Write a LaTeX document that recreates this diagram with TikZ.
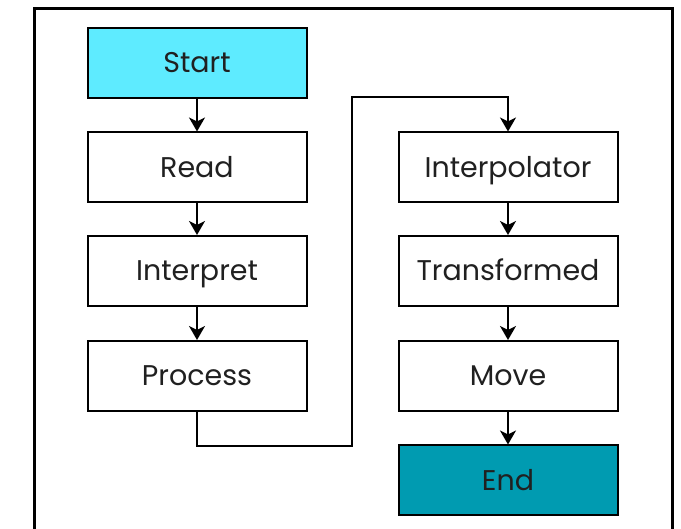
\documentclass[tikz,border=0pt]{standalone}
\usepackage{fontspec}
\setmainfont{Poppins}
\usetikzlibrary{arrows.meta}
\definecolor{startc}{HTML}{5EEBFF}
\definecolor{endc}{HTML}{009BB1}
\begin{document}
\begin{tikzpicture}[x=1pt,y=-1pt,
  box/.style={draw=black,line width=2pt,minimum width=219pt,minimum height=70pt,inner sep=0pt,text height=20pt,text depth=0pt,font=\fontsize{28.5}{30}\selectfont\color[HTML]{202020}},
  conn/.style={draw=black,line width=2pt,-{Stealth[length=14pt,width=16pt,inset=4pt]}},
  plain/.style={draw=black,line width=2pt}]
\useasboundingbox (0,0) rectangle (681,529);
\fill[white] (0,0) rectangle (681,529);
\draw[line width=3pt] (34,9) rectangle (672,560);
\node[box,fill=startc] (start) at (197,63) {Start};
\node[box] (read) at (197,167.5) {Read};
\node[box] (interp) at (197,271) {Interpret};
\node[box] (proc) at (197,376) {Process};
\node[box] (ipol) at (508,167.5) {Interpolator};
\node[box] (trans) at (508,271) {Transformed};
\node[box] (move) at (508,376) {Move};
\node[box,fill=endc] (end) at (508,480.5) {End};
\coordinate (c1) at (197,446);
\coordinate (c2) at (352,446);
\coordinate (c3) at (352,97);
\coordinate (c4) at (508,97);
\draw[conn] (start) -- (read);
\draw[conn] (read) -- (interp);
\draw[conn] (interp) -- (proc);
\draw[conn] (proc.south) -- (c1) -- (c2) -- (c3) -- (c4) -- (ipol.north);
\draw[conn] (ipol) -- (trans);
\draw[conn] (trans) -- (move);
\draw[conn] (move) -- (end);
\end{tikzpicture}
\end{document}
